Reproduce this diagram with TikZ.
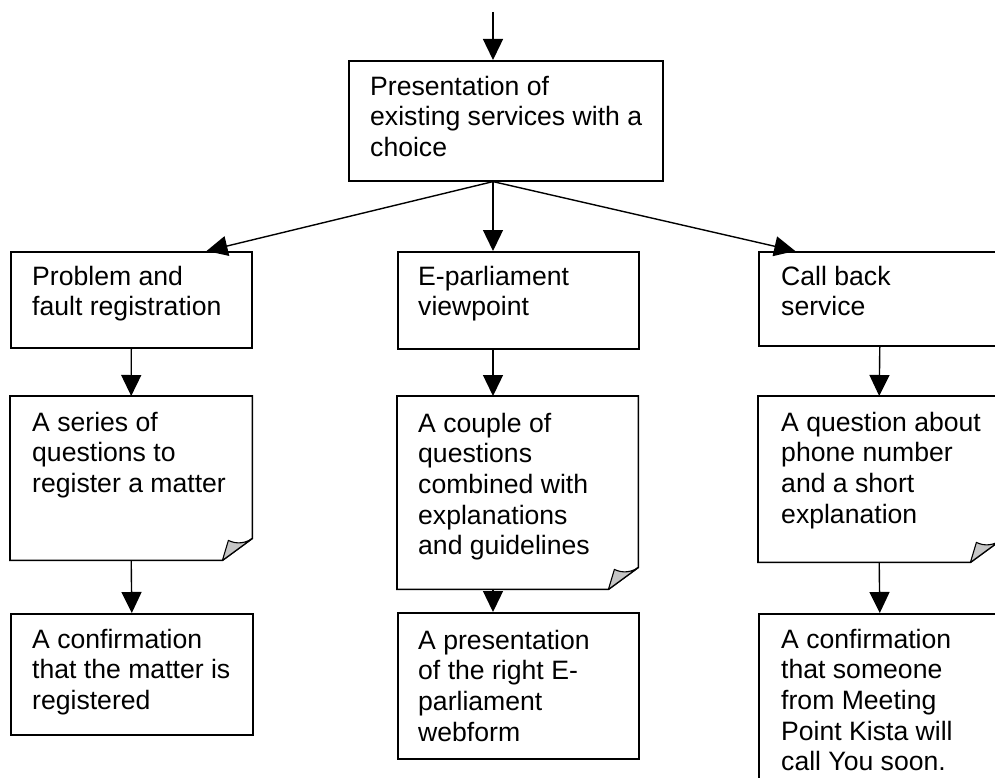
\documentclass[tikz,border=0pt]{standalone}
\usepackage{fontspec}
\setmainfont{Liberation Sans}
\usetikzlibrary{arrows.meta,calc}
% invisible strut that fixes the height of a label's first line
\newcommand\firstline{\rule{0pt}{22pt}}
% page-shaped box with a curled lower right corner, drawn around node #1
\newcommand\foldedpage[1]{%
  \draw[frame] (#1.north west) -- (#1.north east)
    -- ($(#1.south east)+(0,-22)$) -- ($(#1.south east)+(-30,0)$)
    -- (#1.south west) -- cycle;
  \filldraw[curl] ($(#1.south east)+(-30,0)$) -- ($(#1.south east)+(-24,-20)$)
    .. controls ($(#1.south east)+(-16,-16)$) and ($(#1.south east)+(-7,-17)$)
    .. ($(#1.south east)+(0,-22)$) -- cycle;}
\begin{document}
\begin{tikzpicture}[x=1pt,y=-1pt,
  frame/.style={line width=1.6pt,line join=miter},
  box/.style={draw,frame,rectangle,anchor=north west,inner sep=0pt},
  pagebox/.style={rectangle,anchor=north west,inner sep=0pt},
  boxtext/.style={anchor=north west,inner sep=0pt,align=left,
    font=\fontsize{26.6}{30.6}\selectfont},
  flow/.style={line width=1.4pt,-{Triangle[length=21pt,width=20pt]}},
  curl/.style={fill=gray!45,draw,line width=1.1pt,line join=round}]
\useasboundingbox (0,0) rectangle (995,778);
\clip (0,0) rectangle (995,778);

% boxes
\node[box,minimum width=314pt,minimum height=120pt] (top) at (348,60) {};
\node[box,minimum width=241pt,minimum height=96pt] (p1) at (10,251) {};
\node[box,minimum width=241pt,minimum height=97pt] (p2) at (397,251) {};
\node[box,minimum width=242pt,minimum height=94pt] (p3) at (758,251) {};
\node[pagebox,minimum width=242pt,minimum height=164pt] (d1) at (10,396) {};
\node[pagebox,minimum width=241pt,minimum height=193pt] (d2) at (397,396) {};
\node[pagebox,minimum width=242pt,minimum height=166pt] (d3) at (758,396) {};
\node[box,minimum width=242pt,minimum height=121pt] (c1) at (10,613) {};
\node[box,minimum width=241pt,minimum height=146pt] (c2) at (397,612) {};
\node[box,minimum width=242pt,minimum height=200pt] (c3) at (758,613) {};
\foldedpage{d1}
\foldedpage{d2}
\foldedpage{d3}

% labels
\node[boxtext] (ttop) at ($(top.north west)+(22,13)$)
  {\firstline Presentation of\\existing services with a\\choice};
\node[boxtext] (tp1) at ($(p1.north west)+(22,12)$)
  {\firstline Problem and\\fault registration};
\node[boxtext] (tp2) at ($(p2.north west)+(21,12)$)
  {\firstline E-parliament\\viewpoint};
\node[boxtext] (tp3) at ($(p3.north west)+(23,12)$)
  {\firstline Call back\\service};
\node[boxtext] (td1) at ($(d1.north west)+(22,13)$)
  {\firstline A series of\\questions to\\register a matter};
\node[boxtext] (td2) at ($(d2.north west)+(21,14)$)
  {\firstline A couple of\\questions\\combined with\\explanations\\and guidelines};
\node[boxtext] (td3) at ($(d3.north west)+(23,13)$)
  {\firstline A question about\\phone number\\and a short\\explanation};
\node[boxtext] (tc1) at ($(c1.north west)+(22,13)$)
  {\firstline A confirmation\\that the matter is\\registered};
\node[boxtext] (tc2) at ($(c2.north west)+(21,15)$)
  {\firstline A presentation\\of the right E-\\parliament\\webform};
\node[boxtext] (tc3) at ($(c3.north west)+(23,13)$)
  {\firstline A confirmation\\that someone\\from Meeting\\Point Kista will\\call You soon.};

% connectors
\coordinate (entry) at (493,12);
\coordinate (fork) at (entry |- top.south);
\draw[flow] (entry) -- (entry |- top.north);
\draw[flow] (fork) -- ($(p1.north west)!0.81!(p1.north east)$);
\draw[flow] (fork) -- (fork |- p2.north);
\draw[flow] (fork) -- ($(p3.north west)!0.153!(p3.north east)$);
\draw[flow] (p1.south) -- (d1.north);
\draw[flow] (fork |- p2.south) -- (fork |- d2.north);
\draw[flow] (p3.south) -- (d3.north);
\draw[flow] (d1.south) -- (c1.north);
\draw[flow] (fork |- d2.south) -- (fork |- c2.north);
\draw[flow] (d3.south) -- (c3.north);
\end{tikzpicture}
\end{document}
